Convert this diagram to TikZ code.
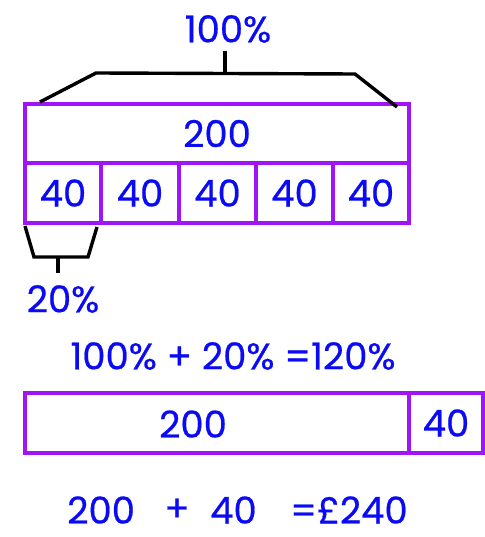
\documentclass[tikz,border=0pt]{standalone}
\usepackage{fontspec}
\setmainfont{Poppins}[UprightFeatures={FakeBold=0.6}]
\definecolor{txtblue}{RGB}{10,10,245}
\definecolor{barpurple}{RGB}{160,20,250}
\begin{document}
\begin{tikzpicture}[x=1pt,y=-1pt,
  box/.style={draw=barpurple,line width=3.4pt,rectangle,inner sep=0pt,text=txtblue,font=\fontsize{37}{42}\selectfont},
  lbl/.style={text=txtblue,inner sep=0pt,font=\fontsize{37}{42}\selectfont},
  brk/.style={draw=black,line width=3.4pt,line join=miter}]
\useasboundingbox (0,0) rectangle (484,537);
% top bar
\node[box,minimum width=384,minimum height=59] (big) at (217,133.5) {200};
\node[box,minimum width=76,minimum height=60] (p1) at (63,193) {40};
\node[box,minimum width=78,minimum height=60] (p2) at (140,193) {40};
\node[box,minimum width=77,minimum height=60] (p3) at (217.5,193) {40};
\node[box,minimum width=77,minimum height=60] (p4) at (294.5,193) {40};
\node[box,minimum width=76,minimum height=60] (p5) at (371,193) {40};
% top brace
\node[lbl] (hundred) at (228,29) {100\%};
\coordinate (tL) at (40,102);
\coordinate (tR) at (397,107);
\coordinate (tTop) at (225,51);
\draw[brk] (tL) -- (96,73) -- (355,74) -- (tR);
\draw[brk] (tTop) -- (225,73.5);
% bottom brace
\node[lbl] (twenty) at (63,299) {20\%};
\coordinate (bL) at (25,226);
\coordinate (bR) at (97,227);
\draw[brk] (bL) -- (34,257) -- (88,257) -- (bR);
\draw[brk] (58,257) -- (58,273);
% equation
\node[lbl] (eq1) at (233,356) {100\% + 20\% =120\%};
% second bar
\node[box,minimum width=384,minimum height=60] (bar2) at (217,423) {};
\node[lbl] (b200) at (193,424) {200};
\node[box,minimum width=74,minimum height=60] (bar40) at (446,423) {40};
% result
\node[lbl,anchor=west] (r1) at (67,510) {200};
\node[lbl] (r2) at (177,510) {+};
\node[lbl,anchor=west] (r3) at (210,510) {40};
\node[lbl,anchor=west] (r4) at (290,510) {=£240};
\end{tikzpicture}
\end{document}
